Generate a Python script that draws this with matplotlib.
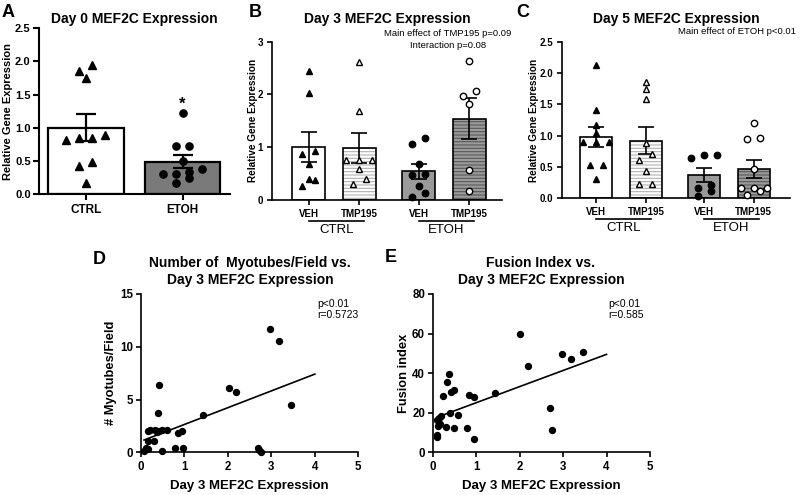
import numpy as np
import matplotlib
matplotlib.use('Agg')
import matplotlib.pyplot as plt
from matplotlib.transforms import blended_transform_factory

plt.rcParams['font.family'] = ['Liberation Sans', 'DejaVu Sans']
plt.rcParams['hatch.linewidth'] = 0.8

# ---------------- data ----------------
# Panel A: Day 0
a_groups = ['CTRL', 'ETOH']
a_ctrl = [1.85, 1.94, 1.75, 0.82, 0.89, 0.85, 0.85, 0.43, 0.48, 0.17]
a_etoh = [1.22, 0.73, 0.73, 0.50, 0.31, 0.33, 0.38, 0.31, 0.17, 0.25]

# Panels B/C labels
bc_treat = ['VEH', 'TMP195', 'VEH', 'TMP195']
bc_groups = ['CTRL', 'ETOH']

# Panel B: Day 3
b_ctrl_veh = [2.44, 2.03, 0.88, 0.92, 0.69, 0.27, 0.40, 0.37]
b_ctrl_tmp = [2.62, 1.69, 0.76, 0.76, 0.76, 0.59, 0.40, 0.30]
b_etoh_veh = [1.07, 1.17, 0.69, 0.47, 0.49, 0.27, 0.06, 0.13]
b_etoh_tmp = [2.64, 2.07, 1.98, 1.81, 0.57, 0.18]

# Panel C: Day 5
c_ctrl_veh = [2.13, 1.41, 1.17, 1.04, 0.90, 0.90, 0.90, 0.53, 0.53, 0.31]
c_ctrl_tmp = [1.86, 1.74, 1.58, 0.88, 0.71, 0.61, 0.44, 0.23, 0.23]
c_etoh_veh = [0.65, 0.69, 0.69, 0.21, 0.17, 0.12, 0.03]
c_etoh_tmp = [1.20, 0.94, 0.96, 0.46, 0.17, 0.17, 0.17, 0.12, 0.06]

# Panel D: myotubes/field vs day 3 MEF2C
d_x = [2.97, 3.18, 3.46, 2.02, 2.18, 1.43, 0.42, 0.38, 0.15, 0.21, 0.32, 0.42, 0.48, 0.59,
       0.36, 0.84, 0.94, 0.15, 0.30, 0.11, 0.17, 0.07, 0.49, 0.78, 0.96, 2.69, 2.72, 2.76]
d_y = [11.65, 10.56, 4.46, 6.12, 5.73, 3.58, 6.35, 3.70, 2.03, 2.16, 2.16, 2.00, 2.16, 2.16,
       1.90, 1.85, 2.00, 1.06, 1.06, 0.38, 0.34, 0.14, 0.12, 0.44, 0.44, 0.44, 0.19, 0.03]
d_fit = (1.59, 1.05)          # slope, intercept of the drawn regression line
d_stats = 'p<0.01\nr=0.5723'

# Panel E: fusion index vs day 3 MEF2C
e_x = [2.00, 2.19, 2.98, 3.19, 3.46, 1.43, 2.69, 2.75, 0.37, 0.34, 0.48, 0.41, 0.23, 0.83,
       0.94, 0.39, 0.58, 0.18, 0.15, 0.11, 0.17, 0.31, 0.49, 0.79, 0.96, 0.11, 0.11, 0.13]
e_y = [59.9, 43.6, 49.7, 47.4, 50.8, 30.0, 22.5, 11.2, 39.8, 35.3, 31.6, 30.5, 28.5, 29.1,
       27.8, 20.0, 19.0, 18.2, 17.3, 16.3, 14.3, 13.0, 12.5, 12.5, 6.6, 8.9, 7.5, 13.5]
e_fit = (8.15, 16.9)
e_stats = 'p<0.01\nr=0.585'

fit_x_end = 4.0

# ---------------- layout helpers ----------------
W, H = 800, 495
fig = plt.figure(figsize=(W / 100, H / 100), dpi=100)


def rect(x0, yt, x1, yb):
    return [x0 / W, 1 - yb / H, (x1 - x0) / W, (yb - yt) / H]


def ftext(x, y, s, **kw):
    fig.text(x / W, 1 - y / H, s, **kw)


def style_axes(ax, lw, tick_fs, ticklen=3.5, pad=3):
    for s in ['top', 'right']:
        ax.spines[s].set_visible(False)
    for s in ['left', 'bottom']:
        ax.spines[s].set_linewidth(lw)
    ax.tick_params(width=lw, length=ticklen, pad=pad, labelsize=tick_fs, direction='out')
    for lab in ax.get_xticklabels() + ax.get_yticklabels():
        lab.set_fontweight('bold')


def swarm(ax, xc, ys, d_px, thr_px):
    ys = np.asarray(ys, float)
    pts = np.column_stack([np.full(len(ys), float(xc)), ys])
    ypx = ax.transData.transform(pts)[:, 1]
    x0px = ax.transData.transform((xc, 0))[0]
    inv = ax.transData.inverted()
    xs = np.full(len(ys), float(xc))
    order = np.argsort(ys, kind='stable')
    rows, cur = [], []
    for i in order:
        if cur and ypx[i] - ypx[cur[0]] > thr_px:
            rows.append(cur)
            cur = []
        cur.append(i)
    if cur:
        rows.append(cur)
    for row in rows:
        n = len(row)
        for k, i in enumerate(row):
            xp = x0px + (k - (n - 1) / 2) * d_px
            xs[i] = inv.transform((xp, ypx[i]))[0]
    return xs


def mean_sem(v):
    v = np.asarray(v, float)
    return v.mean(), v.std(ddof=1) / np.sqrt(len(v))


def draw_bars(ax, pos, datasets, faces, hatches, hatch_cols, markers, mfaces,
              width, edge_lw, msize, capsize, d_px):
    for p, data, fc, hat, hc, mk, mf in zip(pos, datasets, faces, hatches, hatch_cols,
                                             markers, mfaces):
        m, s = mean_sem(data)
        if hat:
            ax.bar(p, m, width, color=fc, edgecolor=hc, hatch=hat, linewidth=0, zorder=2)
            ax.bar(p, m, width, fill=False, edgecolor='black', linewidth=edge_lw, zorder=3)
        else:
            ax.bar(p, m, width, color=fc, edgecolor='black', linewidth=edge_lw, zorder=2)
        ax.errorbar(p, m, yerr=s, fmt='none', ecolor='black', elinewidth=edge_lw,
                    capsize=capsize, capthick=edge_lw, zorder=4)
        xs = swarm(ax, p, data, d_px, 6.5)
        ax.plot(xs, data, linestyle='none', marker=mk, markersize=msize,
                markerfacecolor=mf, markeredgecolor='black', markeredgewidth=1.0,
                zorder=5, clip_on=False)


# ---------------- Panel A ----------------
axA = fig.add_axes(rect(39, 28, 230, 194.3))
axA.set_xlim(-0.486, 1.49)
axA.set_ylim(0, 2.5)
axA.set_yticks(np.arange(0, 2.51, 0.5))
axA.set_yticklabels([f'{v:.1f}' for v in np.arange(0, 2.51, 0.5)])
axA.set_xticks([0, 1])
axA.set_xticklabels(a_groups)
style_axes(axA, 1.5, 8, ticklen=4, pad=2)
axA.tick_params(axis='x', labelsize=8.5, pad=3)
draw_bars(axA, [0, 1], [a_ctrl, a_etoh], ['white', '#7a7a7a'], [None, None], [None, None],
          ['^', 'o'], ['black', 'black'], 0.78, 1.6, 5.2, 7, 13)
axA.text(1, max(a_etoh) + 0.14, '*', ha='center', va='center', fontsize=12, fontweight='bold')
axA.set_ylabel('Relative Gene Expression', fontsize=8, fontweight='bold')
axA.yaxis.set_label_coords(-0.135, 0.5)
ftext(134.5, 18.5, 'Day 0 MEF2C Expression', ha='center', va='center', fontsize=10,
      fontweight='bold')

# ---------------- Panels B and C ----------------
bc_pos = np.array([0, 1, 2, 3]) + np.array([0, 0, 1, 1]) * 0.17


def bc_panel(r, xlim, ylim, yticks, yfmt, datasets, title, title_cx, label_x):
    ax = fig.add_axes(r)
    ax.set_xlim(*xlim)
    ax.set_ylim(*ylim)
    ax.set_yticks(yticks)
    ax.set_yticklabels([yfmt.format(v) for v in yticks])
    ax.set_xticks(bc_pos)
    ax.set_xticklabels(bc_treat)
    style_axes(ax, 1.2, 7, ticklen=3.5, pad=3)
    draw_bars(ax, bc_pos, datasets, ['white', 'white', '#9a9a9a', '#9a9a9a'],
              [None, '-----', None, '-----'], [None, '#b0b0b0', None, '#5a5a5a'],
              ['^', '^', 'o', 'o'], ['black', 'white', 'black', 'white'],
              0.65, 1.2, 4.6, 5.5, 13)
    ax.set_ylabel('Relative Gene Expression', fontsize=7.2, fontweight='bold')
    ax.yaxis.set_label_coords(label_x, 0.5)
    ftext(title_cx, 19.5, title, ha='center', va='center', fontsize=10, fontweight='bold')
    tr = blended_transform_factory(ax.transData, ax.transAxes)
    for g, (i0, i1) in zip(bc_groups, [(0, 1), (2, 3)]):
        ax.plot([bc_pos[i0], bc_pos[i1] + 0.1], [-0.13, -0.13], color='black', lw=1.2,
                transform=tr, clip_on=False)
        ax.text((bc_pos[i0] + bc_pos[i1]) / 2 + 0.05, -0.19, g, transform=tr,
                ha='center', va='center', fontsize=9.5)
    return ax


axB = bc_panel(rect(272, 41.7, 502, 200), (-0.725, 3.82), (0, 3), [0, 1, 2, 3], '{:.0f}',
               [b_ctrl_veh, b_ctrl_tmp, b_etoh_veh, b_etoh_tmp], 'Day 3 MEF2C Expression',
               387, -0.063)
axC = bc_panel(rect(562, 41.7, 790, 198.3), (-0.69, 3.9), (0, 2.5), list(np.arange(0, 2.51, 0.5)),
               '{:.1f}', [c_ctrl_veh, c_ctrl_tmp, c_etoh_veh, c_etoh_tmp],
               'Day 5 MEF2C Expression', 676, -0.103)

ftext(448, 33, 'Main effect of TMP195 p=0.09', ha='center', va='center', fontsize=6.8)
ftext(448, 45, 'Interaction p=0.08', ha='center', va='center', fontsize=6.8)
ftext(737, 32, 'Main effect of ETOH p<0.01', ha='center', va='center', fontsize=6.8)

# ---------------- Panels D and E ----------------


def scatter_panel(r, xs, ys, fit, ylim, yticks, ylabel, title_lines, stats, title_cx, ylabel_x):
    ax = fig.add_axes(r)
    ax.set_xlim(0, 5)
    ax.set_ylim(*ylim)
    ax.set_xticks(range(6))
    ax.set_yticks(yticks)
    style_axes(ax, 1.2, 8.3, ticklen=3.5, pad=2)
    ax.tick_params(axis='x', pad=3)
    ax.scatter(xs, ys, s=28, color='black', zorder=3, clip_on=False, linewidths=0)
    slope, icpt = fit
    lx = np.array([min(xs), fit_x_end])
    ax.plot(lx, slope * lx + icpt, color='black', lw=1.2, zorder=2)
    ax.set_xlabel('Day 3 MEF2C Expression', fontsize=9.5, fontweight='bold', labelpad=5)
    ax.set_ylabel(ylabel, fontsize=9.3, fontweight='bold')
    ax.yaxis.set_label_coords(ylabel_x, 0.5)
    ax.text(0.81, 0.97, stats, transform=ax.transAxes, ha='left', va='top', fontsize=7.5,
            linespacing=1.2)
    ftext(title_cx, 263, title_lines[0], ha='center', va='center', fontsize=10, fontweight='bold')
    ftext(title_cx, 280, title_lines[1], ha='center', va='center', fontsize=10, fontweight='bold')
    return ax


axD = scatter_panel(rect(141, 294, 358.3, 452.3), d_x, d_y, d_fit, (0, 15), [0, 5, 10, 15],
                    '# Myotubes/Field',
                    ['Number of  Myotubes/Field vs.', 'Day 3 MEF2C Expression'],
                    d_stats, 250, -0.112)
axE = scatter_panel(rect(432.7, 294, 650, 452.3), e_x, e_y, e_fit, (0, 80), [0, 20, 40, 60, 80],
                    'Fusion index',
                    ['Fusion Index vs.', 'Day 3 MEF2C Expression'],
                    e_stats, 541, -0.105)

# ---------------- panel letters ----------------
for lt, (x, y) in zip('ABCDE', [(8, 12.5), (255, 12.5), (523, 12.5), (99, 259), (391, 257)]):
    ftext(x, y, lt, ha='center', va='center', fontsize=13, fontweight='bold')

fig.savefig('out.png', dpi=100)
